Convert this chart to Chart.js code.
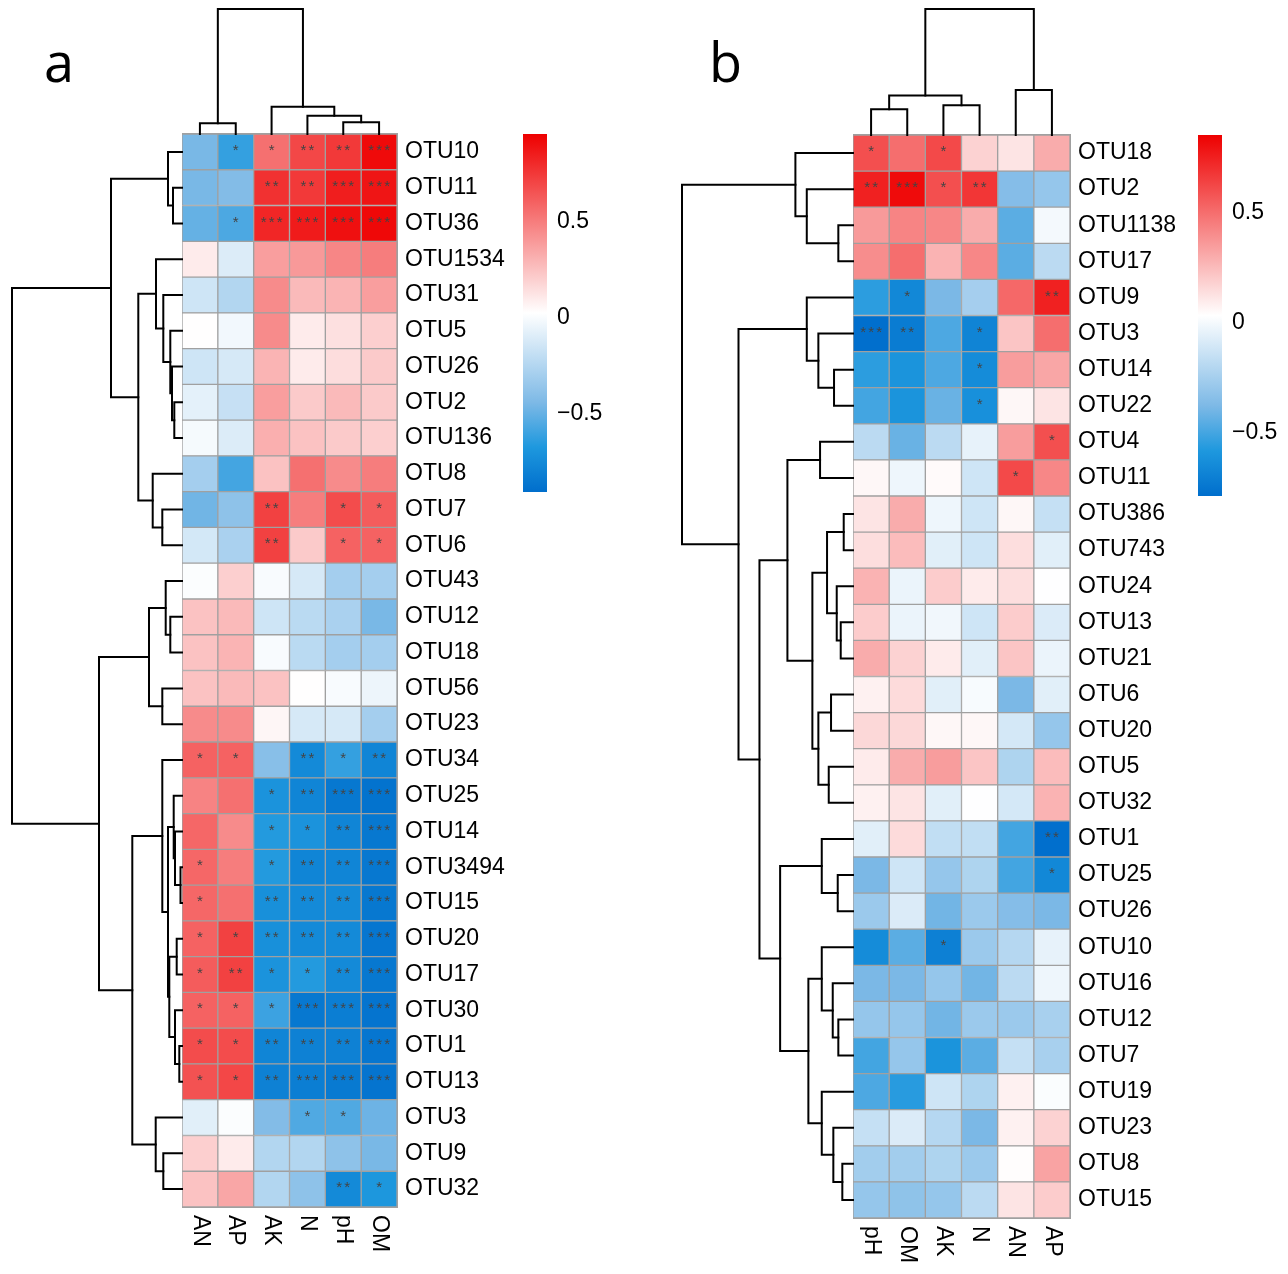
<!DOCTYPE html>
<html><head><meta charset="utf-8">
<script src="https://cdn.jsdelivr.net/npm/chart.js@4.4.1/dist/chart.umd.min.js"></script>
<style>
html,body{margin:0;padding:0;background:#fff;}
#page{position:relative;width:1288px;height:1274px;overflow:hidden;background:#fff;}
#page canvas{position:absolute;}
.plabel{position:absolute;font-family:"Open Sans","Noto Sans",sans-serif;font-size:54px;line-height:54px;color:#000;}
</style></head><body><div id="page"><div class="plabel" style="left:44px;top:34px">a</div><div class="plabel" style="left:709px;top:34px">b</div></div>
<script>
// ---------------- Panel a data ----------------
const aRows = ['OTU10','OTU11','OTU36','OTU1534','OTU31','OTU5','OTU26','OTU2','OTU136','OTU8','OTU7','OTU6','OTU43','OTU12','OTU18','OTU56','OTU23','OTU34','OTU25','OTU14','OTU3494','OTU15','OTU20','OTU17','OTU30','OTU1','OTU13','OTU3','OTU9','OTU32'];
const aCols = ['AN','AP','AK','N','pH','OM'];
const aAN = [-0.45,-0.45,-0.5,0.1,-0.15,0.03,-0.15,-0.07,-0.01,-0.3,-0.47,-0.13,0.01,0.25,0.25,0.25,0.45,0.6,0.48,0.58,0.58,0.58,0.6,0.62,0.6,0.68,0.66,-0.08,0.2,0.25];
const aAP = [-0.62,-0.42,-0.56,-0.1,-0.25,-0.02,-0.12,-0.18,-0.1,-0.58,-0.38,-0.28,0.2,0.28,0.3,0.28,0.45,0.6,0.55,0.45,0.5,0.55,0.72,0.72,0.6,0.68,0.7,0.01,0.1,0.35];
const aAK = [0.55,0.78,0.82,0.38,0.45,0.45,0.3,0.38,0.32,0.25,0.72,0.72,0.0,-0.15,0.0,0.25,0.06,-0.4,-0.7,-0.66,-0.66,-0.72,-0.72,-0.7,-0.6,-0.78,-0.8,-0.42,-0.25,-0.25];
const aN  = [0.7,0.75,0.86,0.4,0.28,0.1,0.1,0.22,0.25,0.55,0.5,0.22,-0.12,-0.22,-0.22,0.03,-0.12,-0.75,-0.78,-0.7,-0.78,-0.75,-0.75,-0.66,-0.85,-0.8,-0.82,-0.55,-0.25,-0.38];
const aPH = [0.75,0.85,0.9,0.47,0.3,0.14,0.15,0.28,0.22,0.45,0.68,0.6,-0.3,-0.28,-0.3,0.0,-0.12,-0.62,-0.85,-0.78,-0.78,-0.75,-0.75,-0.75,-0.82,-0.8,-0.84,-0.55,-0.38,-0.75];
const aOM = [0.92,0.88,0.93,0.5,0.38,0.2,0.22,0.22,0.2,0.5,0.62,0.6,-0.3,-0.45,-0.3,-0.04,-0.3,-0.78,-0.88,-0.85,-0.85,-0.85,-0.86,-0.85,-0.87,-0.86,-0.87,-0.48,-0.45,-0.68];
// significance marks (number of asterisks)
const aStarAN = [0,0,0,0,0,0,0,0,0,0,0,0,0,0,0,0,0,1,0,0,1,1,1,1,1,1,1,0,0,0];
const aStarAP = [1,0,1,0,0,0,0,0,0,0,0,0,0,0,0,0,0,1,0,0,0,0,1,2,1,1,1,0,0,0];
const aStarAK = [1,2,3,0,0,0,0,0,0,0,2,2,0,0,0,0,0,0,1,1,1,2,2,1,1,2,2,0,0,0];
const aStarN  = [2,2,3,0,0,0,0,0,0,0,0,0,0,0,0,0,0,2,2,1,2,2,2,1,3,2,3,1,0,0];
const aStarPH = [2,3,3,0,0,0,0,0,0,0,1,1,0,0,0,0,0,1,3,2,2,2,2,2,3,2,3,1,0,2];
const aStarOM = [3,3,3,0,0,0,0,0,0,0,1,1,0,0,0,0,0,2,3,3,3,3,3,3,3,3,3,0,0,1];
// row dendrogram (hclust style: negative = leaf index+1, positive = merge step)
const aRowMergeL = [-2,-1,-8,-7,-6,-5,-4,-11,-10,7,2,-14,-13,-16,13,-21,-20,-19,-23,-26,-25,19,18,-18,-29,-28,24,15,11];
const aRowMergeR = [-3,1,-9,3,4,5,6,-12,8,9,10,-15,12,-17,14,-22,16,17,-24,-27,20,21,22,23,-30,25,26,27,28];
const aRowHeight = [9,14,7.7,10,11.7,18.7,26,19.7,29.3,43.7,71,11.7,16.3,19.7,33,1.5,7,8.3,5.3,2.7,7,12.7,14,19.7,18.7,26.3,49.7,83,170];
const aColMergeL = [-1,-5,-4,-3,1];
const aColMergeR = [-2,-6,2,3,4];
const aColHeight = [10.7,11.7,18.3,27.3,124.7];
const aScaleMin = -0.906, aScaleMax = 0.958;

// ---------------- Panel b data ----------------
const bRows = ['OTU18','OTU2','OTU1138','OTU17','OTU9','OTU3','OTU14','OTU22','OTU4','OTU11','OTU386','OTU743','OTU24','OTU13','OTU21','OTU6','OTU20','OTU5','OTU32','OTU1','OTU25','OTU26','OTU10','OTU16','OTU12','OTU7','OTU19','OTU23','OTU8','OTU15'];
const bCols = ['pH','OM','AK','N','AN','AP'];
const bPH = [0.6,0.75,0.36,0.4,-0.55,-0.78,-0.55,-0.5,-0.18,0.06,0.12,0.14,0.28,0.2,0.3,0.08,0.16,0.1,0.08,-0.06,-0.38,-0.28,-0.64,-0.38,-0.3,-0.5,-0.48,-0.15,-0.26,-0.3];
const bOM = [0.5,0.82,0.43,0.5,-0.66,-0.72,-0.6,-0.6,-0.42,-0.02,0.3,0.25,-0.03,-0.03,0.18,0.15,0.16,0.3,0.12,0.15,-0.12,-0.08,-0.45,-0.38,-0.3,-0.3,-0.56,-0.08,-0.26,-0.32];
const bAK = [0.62,0.6,0.42,0.28,-0.38,-0.48,-0.48,-0.42,-0.18,0.05,-0.02,-0.06,0.2,-0.01,0.1,-0.06,0.06,0.35,-0.06,-0.16,-0.3,-0.4,-0.7,-0.3,-0.4,-0.6,-0.12,-0.2,-0.22,-0.3];
const bN  = [0.18,0.68,0.3,0.42,-0.25,-0.68,-0.64,-0.62,-0.04,-0.12,-0.12,-0.12,0.1,-0.12,-0.06,0.01,0.06,0.22,0.03,-0.16,-0.22,-0.28,-0.28,-0.4,-0.28,-0.45,-0.22,-0.38,-0.28,-0.18];
const bAN = [0.12,-0.35,-0.45,-0.45,0.52,0.22,0.35,0.06,0.35,0.62,0.06,0.14,0.14,0.2,0.22,-0.38,-0.1,-0.22,-0.1,-0.5,-0.5,-0.35,-0.2,-0.18,-0.28,-0.15,0.08,0.08,0.04,0.12];
const bAP = [0.3,-0.3,0.0,-0.18,0.75,0.5,0.32,0.12,0.6,0.42,-0.15,-0.06,0.03,-0.08,-0.03,-0.06,-0.3,0.25,0.28,-0.78,-0.66,-0.38,-0.04,-0.02,-0.24,-0.24,0.02,0.18,0.33,0.2];
const bStarPH = [1,2,0,0,0,3,0,0,0,0,0,0,0,0,0,0,0,0,0,0,0,0,0,0,0,0,0,0,0,0];
const bStarOM = [0,3,0,0,1,2,0,0,0,0,0,0,0,0,0,0,0,0,0,0,0,0,0,0,0,0,0,0,0,0];
const bStarAK = [1,1,0,0,0,0,0,0,0,0,0,0,0,0,0,0,0,0,0,0,0,0,1,0,0,0,0,0,0,0];
const bStarN  = [0,2,0,0,0,1,1,1,0,0,0,0,0,0,0,0,0,0,0,0,0,0,0,0,0,0,0,0,0,0];
const bStarAN = [0,0,0,0,0,0,0,0,0,1,0,0,0,0,0,0,0,0,0,0,0,0,0,0,0,0,0,0,0,0];
const bStarAP = [0,0,0,0,2,0,0,0,1,0,0,0,0,0,0,0,0,0,0,2,1,0,0,0,0,0,0,0,0,0];
const bRowMergeL = [-3,-2,-1,-7,-6,-5,-9,-11,-14,-13,8,-16,-18,12,11,7,-21,-20,-25,-24,-23,-29,-28,-27,21,18,16,6,3];
const bRowMergeR = [-4,1,2,-8,4,5,-10,-12,-15,9,10,-17,-19,13,14,15,-22,17,-26,19,20,-30,22,23,24,25,26,27,28];
const bRowHeight = [14.7,46.3,57.7,19,34.7,46.3,33,9.3,12.3,16.3,26,22,24.3,34.7,40.7,65.7,15.3,31.3,14.7,20.3,31.3,10.7,19.7,31.3,44.7,73,93.7,114.7,171.3];
const bColMergeL = [-1,-3,1,-5,3];
const bColMergeR = [-2,-4,2,-6,4];
const bColHeight = [25.7,29.7,39.3,45,125.7];
const bScaleMin = -0.786, bScaleMax = 0.855;

const colorbarTicks = [-0.5, 0, 0.5];

// ---------------- drawing ----------------
const FONT = '"Liberation Sans", Arial, Helvetica, sans-serif';
Chart.defaults.font.family = FONT;
Chart.defaults.animation = false;
// colour ramp: position along each half (0 = middle/white, 1 = extreme)
const WHITE = [255,255,255];
const NEG_RAMP = [[0, WHITE], [0.5, [125,185,230]], [0.75, [30,152,222]], [1, [0,110,204]]];
const POS_RAMP = [[0, WHITE], [1, [238,0,0]]];
const page = document.getElementById('page');

function rgbStr(c){ return 'rgb(' + c.map(Math.round).join(',') + ')'; }
function ramp(stops, t){
  t = Math.max(0, Math.min(1, t));
  for (let i = 1; i < stops.length; i++) {
    const [t0, c0] = stops[i - 1], [t1, c1] = stops[i];
    if (t <= t1) { const f = (t - t0) / (t1 - t0); return c0.map((v, k) => v + (c1[k] - v) * f); }
  }
  return stops[stops.length - 1][1];
}
function colorFor(v, lo, hi){
  const mid = (lo + hi) / 2;
  return v >= mid ? rgbStr(ramp(POS_RAMP, (v - mid) / (hi - mid))) : rgbStr(ramp(NEG_RAMP, (mid - v) / (mid - lo)));
}
function makeCanvas(left, top, w, h){
  const c = document.createElement('canvas');
  c.width = w; c.height = h;
  c.style.left = left + 'px'; c.style.top = top + 'px';
  c.style.width = w + 'px'; c.style.height = h + 'px';
  page.appendChild(c);
  return c;
}
function starPlugin(stars){
  return { id: 'stars', afterDatasetsDraw(chart){
    const ctx = chart.ctx; ctx.save();
    ctx.fillStyle = '#444'; ctx.font = '15px ' + FONT; ctx.textAlign = 'center'; ctx.textBaseline = 'middle';
    stars.forEach((col, c) => {
      const meta = chart.getDatasetMeta(c);
      col.forEach((n, i) => {
        if (!n) return;
        const el = meta.data[i];
        const cx = (el.x + el.base) / 2, cy = el.y;
        for (let k = 0; k < n; k++) ctx.fillText('*', cx + (k - (n - 1) / 2) * 8, cy - 1);
      });
    });
    ctx.restore();
  }};
}
function colLabelPlugin(cols){
  return { id: 'collabels', afterDraw(chart){
    const ctx = chart.ctx, xs = chart.scales.x, a = chart.chartArea;
    ctx.save(); ctx.fillStyle = '#000'; ctx.font = '23px ' + FONT; ctx.textAlign = 'left'; ctx.textBaseline = 'middle';
    cols.forEach((name, c) => {
      ctx.save(); ctx.translate(xs.getPixelForValue(c + 0.5), a.bottom + 8); ctx.rotate(Math.PI / 2);
      ctx.fillText(name, 0, 0); ctx.restore();
    });
    ctx.restore();
  }};
}
const outlinePlugin = { id: 'outline', afterDatasetsDraw(chart){
  const a = chart.chartArea, ctx = chart.ctx;
  ctx.save(); ctx.strokeStyle = '#A0A0A0'; ctx.lineWidth = 1;
  ctx.strokeRect(a.left - 0.5, a.top - 0.5, a.right - a.left + 1, a.bottom - a.top + 1);
  ctx.restore();
}};

function drawHeatmap(p){
  const PT = 30, PB = 70, AW = 140;
  const cv = makeCanvas(p.left, p.top - PT, p.w + AW, p.h + PT + PB);
  return new Chart(cv, {
    type: 'bar',
    data: { labels: p.rows, datasets: p.cols.map((name, c) => ({
      label: name,
      data: p.rows.map(() => [c, c + 1]),
      backgroundColor: ctx => colorFor(p.vals[c][ctx.dataIndex], p.lo, p.hi),
      borderColor: '#A0A0A0', borderWidth: 1, borderSkipped: false,
      barPercentage: 1, categoryPercentage: 1, grouped: false
    })) },
    options: {
      indexAxis: 'y', responsive: false, animation: false,
      layout: { padding: { top: PT, bottom: PB, left: 0, right: 0 } },
      plugins: { legend: { display: false }, tooltip: { enabled: false } },
      scales: {
        x: { type: 'linear', min: 0, max: p.cols.length, display: false },
        y: { type: 'category', position: 'right', grid: { display: false, drawTicks: false }, border: { display: false },
             ticks: { color: '#000', font: { size: 23, family: FONT }, padding: 8, autoSkip: false },
             afterFit: s => { s.width = AW; } }
      }
    },
    plugins: [starPlugin(p.stars), colLabelPlugin(p.cols), outlinePlugin]
  });
}

function buildLines(mL, mR, hs, leafPos){
  const pos = [], lines = [];
  const node = k => k < 0 ? { p: leafPos(-k - 1), h: 0 } : { p: pos[k - 1], h: hs[k - 1] };
  for (let i = 0; i < mL.length; i++) {
    const a = node(mL[i]), b = node(mR[i]), H = hs[i];
    lines.push([{ p: a.p, h: a.h }, { p: a.p, h: H }, { p: b.p, h: H }, { p: b.p, h: b.h }]);
    pos[i] = (a.p + b.p) / 2;
  }
  return lines;
}

function drawDendro(o){
  const P = 4;
  const cv = makeCanvas(o.left - P, o.top - P, o.w + 2 * P, o.h + 2 * P);
  const isRow = o.orient === 'row';
  const lines = buildLines(o.mL, o.mR, o.hs, isRow ? (r => r) : (c => c + 0.5));
  const root = Math.max(...o.hs);
  const datasets = lines.map(seg => ({
    data: seg.map(q => isRow ? { x: q.h, y: q.p } : { x: q.p, y: q.h }),
    showLine: true, borderColor: '#000', borderWidth: 2, pointRadius: 0, tension: 0,
    clip: false, borderJoinStyle: 'miter', borderCapStyle: 'square'
  }));
  new Chart(cv, {
    type: 'scatter', data: { datasets },
    options: {
      responsive: false, animation: false, layout: { padding: P },
      plugins: { legend: { display: false }, tooltip: { enabled: false } },
      scales: isRow
        ? { x: { type: 'linear', min: 0, max: root, reverse: true, display: false },
            y: { type: 'linear', min: -0.5, max: o.n - 0.5, reverse: true, display: false } }
        : { x: { type: 'linear', min: 0, max: o.n, display: false },
            y: { type: 'linear', min: 0, max: root, display: false } }
    }
  });
}

function drawColorbar(o){
  const PT = 30, AW = 90;
  const cv = makeCanvas(o.left, o.top - PT, o.w + AW, o.h + 2 * PT);
  new Chart(cv, {
    type: 'bar',
    data: { labels: [''], datasets: [{
      data: [[o.lo, o.hi]],
      backgroundColor: ctx => {
        const ch = ctx.chart; if (!ch.chartArea) return '#fff';
        const y = ch.scales.y;
        const g = ch.ctx.createLinearGradient(0, y.getPixelForValue(o.lo), 0, y.getPixelForValue(o.hi));
        NEG_RAMP.forEach(([t, c]) => g.addColorStop(0.5 - t / 2, rgbStr(c)));
        POS_RAMP.forEach(([t, c]) => g.addColorStop(0.5 + t / 2, rgbStr(c)));
        return g;
      },
      barPercentage: 1, categoryPercentage: 1, borderWidth: 0
    }] },
    options: {
      responsive: false, animation: false,
      layout: { padding: { top: PT, bottom: PT, left: 0, right: 0 } },
      plugins: { legend: { display: false }, tooltip: { enabled: false } },
      scales: {
        x: { display: false },
        y: { type: 'linear', position: 'right', min: o.lo, max: o.hi,
             grid: { display: false, drawTicks: false }, border: { display: false },
             afterBuildTicks: s => { s.ticks = o.ticks.map(v => ({ value: v })); },
             ticks: { color: '#000', font: { size: 23, family: FONT }, padding: 10,
                      callback: v => v < 0 ? '\u2212' + Math.abs(v) : String(v) },
             afterFit: s => { s.width = AW; } }
      }
    }
  });
}

// ---------------- panels ----------------
const panels = [
  { left: 182, top: 134, w: 215, h: 1073, rows: aRows, cols: aCols,
    vals: [aAN, aAP, aAK, aN, aPH, aOM], stars: [aStarAN, aStarAP, aStarAK, aStarN, aStarPH, aStarOM],
    lo: aScaleMin, hi: aScaleMax, rowDW: 170, colDH: 125,
    rmL: aRowMergeL, rmR: aRowMergeR, rh: aRowHeight, cmL: aColMergeL, cmR: aColMergeR, ch: aColHeight,
    cb: { left: 523, top: 134, w: 24, h: 358 } },
  { left: 853, top: 135, w: 217, h: 1083, rows: bRows, cols: bCols,
    vals: [bPH, bOM, bAK, bN, bAN, bAP], stars: [bStarPH, bStarOM, bStarAK, bStarN, bStarAN, bStarAP],
    lo: bScaleMin, hi: bScaleMax, rowDW: 171, colDH: 126,
    rmL: bRowMergeL, rmR: bRowMergeR, rh: bRowHeight, cmL: bColMergeL, cmR: bColMergeR, ch: bColHeight,
    cb: { left: 1198, top: 135, w: 24, h: 361 } }
];

panels.forEach(p => {
  const hm = drawHeatmap(p);
  const a = hm.chartArea;
  const gl = p.left + a.left, gt = p.top - 30 + a.top, gw = a.right - a.left, gh = a.bottom - a.top;
  drawDendro({ orient: 'row', left: gl - p.rowDW, top: gt, w: p.rowDW, h: gh, n: p.rows.length, mL: p.rmL, mR: p.rmR, hs: p.rh });
  drawDendro({ orient: 'col', left: gl, top: gt - p.colDH, w: gw, h: p.colDH, n: p.cols.length, mL: p.cmL, mR: p.cmR, hs: p.ch });
  drawColorbar({ left: p.cb.left, top: p.cb.top, w: p.cb.w, h: p.cb.h, lo: p.lo, hi: p.hi, ticks: colorbarTicks });
});
</script>
</body></html>
